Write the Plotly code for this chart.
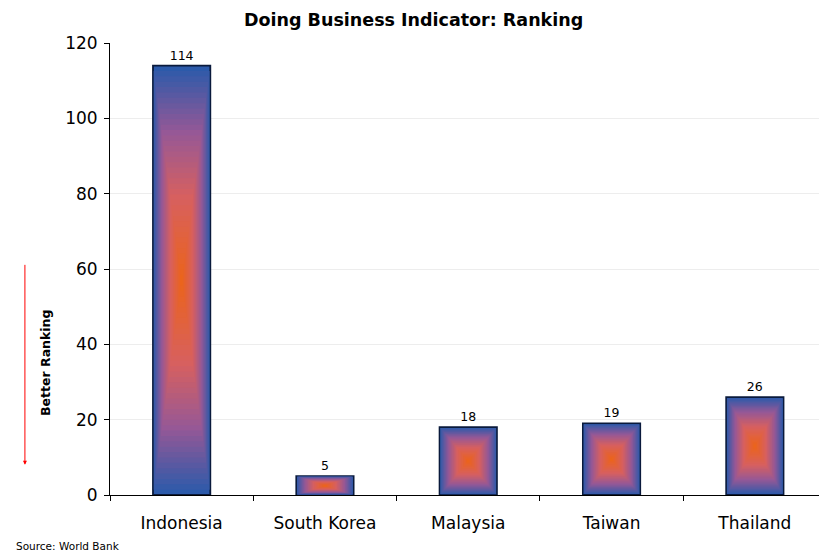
import plotly.graph_objects as go

# Doing Business ranking (lower is better)
countries = ["Indonesia", "South Korea", "Malaysia", "Taiwan", "Thailand"]
ranking = [114, 5, 18, 19, 26]
y_ticks = [0, 20, 40, 60, 80, 100, 120]

# Gradient stops from the bar edge (0) to the bar centre (1)
STOPS = [
    (0.00, (44, 90, 170)),
    (0.30, (150, 88, 150)),
    (0.60, (215, 96, 95)),
    (1.00, (236, 100, 24)),
]
BAR_WIDTH = 0.4
LAYERS = 40


def gradient_color(t):
    for (t0, c0), (t1, c1) in zip(STOPS[:-1], STOPS[1:]):
        if t <= t1:
            u = (t - t0) / (t1 - t0)
            return tuple(round(c0[i] + (c1[i] - c0[i]) * u) for i in range(3))
    return STOPS[-1][1]


fig = go.Figure()

# Rectangular "from centre" gradient: nested bars shrinking toward each bar's midpoint
for k in range(LAYERS):
    f = k / LAYERS
    col = gradient_color(f)
    first = k == 0
    fig.add_trace(go.Bar(
        x=countries,
        y=[v * (1 - f) for v in ranking],
        base=[v * f / 2 for v in ranking],
        width=[BAR_WIDTH * (1 - f)] * len(ranking),
        marker=dict(color="rgb(%d,%d,%d)" % col,
                    line=dict(color="#0A1A3C" if first else "rgba(0,0,0,0)",
                              width=1.8 if first else 0)),
        text=[str(v) for v in ranking] if first else None,
        textposition="outside" if first else "none",
        textfont=dict(family="DejaVu Sans", size=12.5, color="#000000"),
        cliponaxis=False,
        hoverinfo="skip",
        showlegend=False,
    ))

plot_left, plot_right = 110, 819
cat_px = 143.3
x_end = -0.5 + (plot_right - plot_left) / cat_px

fig.update_layout(
    width=819, height=554,
    margin=dict(l=plot_left, r=0, t=43, b=59),
    barmode="overlay",
    plot_bgcolor="white", paper_bgcolor="white",
    font=dict(family="DejaVu Sans", color="#000000"),
    title=dict(text="<b>Doing Business Indicator: Ranking</b>",
               x=0.505, xref="container", xanchor="center", y=0.965, yanchor="middle",
               font=dict(family="DejaVu Sans", size=17.5, color="#000000")),
    xaxis=dict(range=[-0.5, x_end], showline=True, linecolor="#000000", linewidth=1,
               ticks="outside", tickson="boundaries", ticklen=5, tickcolor="#000000",
               ticklabelstandoff=13,
               tickfont=dict(size=17), showgrid=False),
    yaxis=dict(range=[0, 120], tickvals=y_ticks, showline=True, linecolor="#000000",
               linewidth=1, ticks="outside", ticklen=5, tickcolor="#000000",
               ticklabelstandoff=3,
               tickfont=dict(size=17), showgrid=True, gridcolor="#EDEDED",
               zeroline=False),
)

# Axis caption beside the arrow
fig.add_annotation(
    text="<b>Better Ranking</b>", xref="paper", yref="y",
    x=-0.092, y=35, xanchor="center", yanchor="middle", textangle=-90,
    showarrow=False, font=dict(family="DejaVu Sans", size=12.5, color="#000000"),
)

# Arrow pointing down: lower rank values are better
fig.add_annotation(
    x=-0.12, xref="paper", y=8, yref="y",
    ax=0, axref="pixel", ay=61.5, ayref="y",
    showarrow=True, arrowhead=2, arrowsize=0.8, arrowwidth=1, arrowcolor="#FF0000",
    text="",
)

fig.add_annotation(
    text="Source: World Bank", xref="paper", yref="paper",
    x=-0.135, y=-0.112, xanchor="left", yanchor="middle",
    showarrow=False, font=dict(family="DejaVu Sans", size=10.5, color="#000000"),
)

fig.write_html("out.html")
